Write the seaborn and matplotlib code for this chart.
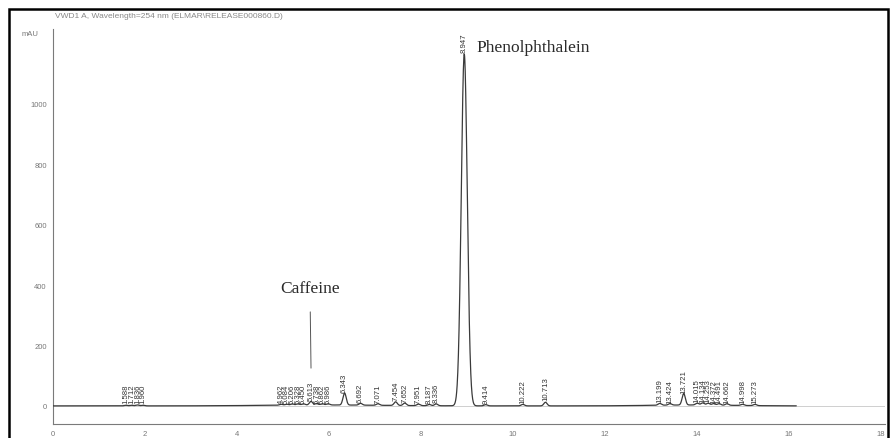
import numpy as np
import pandas as pd
import matplotlib
matplotlib.use("Agg")
import matplotlib.pyplot as plt
from matplotlib.patches import Rectangle
from matplotlib.ticker import MultipleLocator
import seaborn as sns

# ---- integrated peaks: retention time (min), apex height (mAU) ----
rt_early = [1.588, 1.712, 1.836, 1.960]
h_early = [2, 2, 3, 2]

rt_mid = [4.962, 5.084, 5.206, 5.328, 5.450, 5.613, 5.738, 5.862, 5.986,
          6.343, 6.692, 7.071, 7.454, 7.652, 7.951, 8.187, 8.336]
h_mid = [3, 3, 4, 4, 4, 12, 5, 4, 4,
         40, 6, 5, 12, 8, 5, 4, 6]

rt_main = [8.947]
h_main = [1165]

rt_late = [9.414, 10.222, 10.713]
h_late = [4, 5, 12]

rt_end = [13.199, 13.424, 13.721, 14.015, 14.134, 14.253, 14.372, 14.491,
          14.662, 14.998, 15.273]
h_end = [6, 5, 38, 6, 7, 6, 5, 5, 5, 4, 4]

# broad baseline drift components (centre, height, sigma)
drift_centre = [5.9, 13.9]
drift_height = [3, 3]
drift_sigma = [1.3, 0.9]

run_end = 16.17
y_ticks = [0, 200, 400, 600, 800, 1000]
x_ticks = [0, 2, 4, 6, 8, 10, 12, 14, 16, 18]

peaks = pd.DataFrame({
    "rt": rt_early + rt_mid + rt_main + rt_late + rt_end,
    "height": h_early + h_mid + h_main + h_late + h_end,
})
peaks["sigma"] = np.where(peaks["height"] > 500, 0.065, 0.035)

t = np.linspace(0, run_end, 6000)
signal = np.zeros_like(t)
for c, h, s in zip(drift_centre, drift_height, drift_sigma):
    signal += h * np.exp(-0.5 * ((t - c) / s) ** 2)
for _, p in peaks.iterrows():
    signal += p["height"] * np.exp(-0.5 * ((t - p["rt"]) / p["sigma"]) ** 2)
trace = pd.DataFrame({"time": t, "mAU": signal})

sns.set_style("white")
plt.rcParams["font.family"] = ["Liberation Sans", "DejaVu Sans"]

fig = plt.figure(figsize=(8.91, 4.39), dpi=100)
ax = fig.add_axes([53 / 891, 14 / 439, (885 - 53) / 891, (425 - 30) / 439])

grey = "#7a7a7a"
ax.axhline(0, color="#cfcfcf", lw=0.7, zorder=1)
sns.lineplot(data=trace, x="time", y="mAU", ax=ax, color="#3a3a3a", lw=0.9,
             estimator=None, errorbar=None, zorder=3)

# retention-time labels above each apex
for _, p in peaks.iterrows():
    ax.text(p["rt"], p["height"] + 6, f"{p['rt']:.3f}", rotation=90,
            ha="center", va="bottom", fontsize=5.6, color="#333333",
            clip_on=False, zorder=4)

ax.set_xlim(0, 18.1)
ax.set_ylim(-60, 1248)
ax.set_xticks(x_ticks)
ax.set_yticks(y_ticks)
ax.xaxis.set_minor_locator(MultipleLocator(0.5))
ax.yaxis.set_minor_locator(MultipleLocator(100))
ax.tick_params(axis="both", which="major", direction="inout", length=5,
               width=0.6, color=grey, labelsize=5.5, labelcolor="#777777",
               pad=2)
ax.tick_params(axis="both", which="minor", direction="inout", length=3,
               width=0.5, color=grey)
ax.set_xlabel("")
ax.set_ylabel("")
for side in ["top", "right"]:
    ax.spines[side].set_visible(False)
for side in ["left", "bottom"]:
    ax.spines[side].set_color(grey)
    ax.spines[side].set_linewidth(0.8)

# compound annotations
ax.text(9.22, 1189, "Phenolphthalein", family=["Liberation Serif", "DejaVu Serif"],
        fontsize=12.5, color="#2a2a2a", ha="left", va="center")
ax.annotate("Caffeine", xy=(5.613, 125), xytext=(5.59, 390),
            family=["Liberation Serif", "DejaVu Serif"], fontsize=12.5,
            color="#2a2a2a", ha="center", va="center",
            arrowprops=dict(arrowstyle="-", color="#555555", lw=0.7,
                            shrinkA=9, shrinkB=0))

fig.text(55 / 891, 1 - 17 / 439,
         "VWD1 A, Wavelength=254 nm (ELMAR\\RELEASE000860.D)",
         fontsize=6, color="#888888", va="center", ha="left")
fig.text(22 / 891, 1 - 35 / 439, "mAU", fontsize=5.5, color="#777777",
         va="center", ha="left")

fig.patches.append(Rectangle((9 / 891, -0.1), (888 - 9) / 891,
                             1 - 10 / 439 + 0.1, transform=fig.transFigure,
                             fill=False, lw=1.8, ec="black"))

fig.savefig("out.png", dpi=100)
